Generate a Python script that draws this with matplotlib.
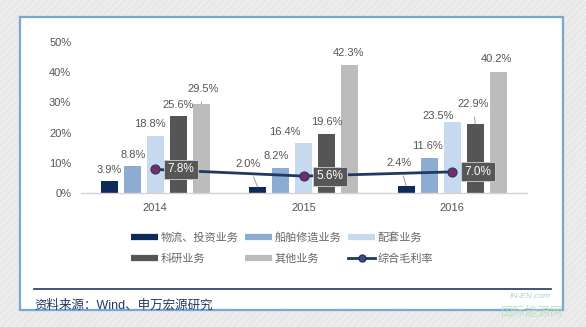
import matplotlib
matplotlib.use("Agg")
import matplotlib.pyplot as plt
from matplotlib.lines import Line2D
from matplotlib.patches import Rectangle
import numpy as np

plt.rcParams['font.family'] = ['Liberation Sans', 'Noto Sans CJK SC', 'DejaVu Sans']

years = ['2014', '2015', '2016']
series_names = ['物流、投资业务', '船舶修造业务', '配套业务', '科研业务', '其他业务']
logistics = [3.9, 2.0, 2.4]
shipbuilding = [8.8, 8.2, 11.6]
supporting = [18.8, 16.4, 23.5]
research = [25.6, 19.6, 22.9]
others = [29.5, 42.3, 40.2]
gross_margin = [7.8, 5.6, 7.0]
line_name = '综合毛利率'
yticks = [0, 10, 20, 30, 40, 50]
source_text = '资料来源：Wind、申万宏源研究'

series = [logistics, shipbuilding, supporting, research, others]
colors = ['#0e2a5a', '#8eabd2', '#c6d9ef', '#555555', '#bcbcbc']

# label offsets (dx, dy) in points relative to the bar top centre; leader flag
label_style = {
    (0, 0): (0, 8, False), (0, 1): (1, 8.5, False), (0, 2): (-4, 8.5, False),
    (0, 3): (0, 7.5, False), (0, 4): (1.5, 11, True),
    (1, 0): (-7, 16.5, True), (1, 1): (-3, 8.5, False), (1, 2): (-13.5, 8.5, False),
    (1, 3): (0, 8.5, False), (1, 4): (-1, 9, False),
    (2, 0): (-5, 16.5, True), (2, 1): (-1, 8.5, False), (2, 2): (-10, 4, False),
    (2, 3): (-1.5, 14.5, True), (2, 4): (-1, 9, False),
}

fig = plt.figure(figsize=(5.86, 3.27), dpi=100)
fig.patch.set_facecolor('#e8e8e8')

# faint diagonal hatching on the outer frame
for k in np.arange(-1.0, 2.0, 0.012):
    fig.add_artist(Line2D([k, k + 0.56], [0, 1], transform=fig.transFigure,
                          color='#f4f4f4', lw=0.6, zorder=0))

panel = Rectangle((20 / 586, 1 - 310 / 327), 543 / 586, 293 / 327,
                  transform=fig.transFigure, facecolor='white',
                  edgecolor='#7aa6d2', lw=1.6, zorder=1)
fig.add_artist(panel)

ax = fig.add_axes([81 / 586, 1 - 193 / 327, 445.5 / 586, 151 / 327])
ax.set_zorder(2)
ax.patch.set_alpha(0)

x = np.arange(len(years))
step = 0.155
width = 0.114
for i, (vals, col) in enumerate(zip(series, colors)):
    pos = x + (i - 2) * step
    ax.bar(pos, vals, width=width, color=col, label=series_names[i], zorder=2)
    for g, (px, v) in enumerate(zip(pos, vals)):
        dx, dy, leader = label_style[(g, i)]
        ax.annotate(f'{v:.1f}%', xy=(px, v), xytext=(dx, dy),
                    textcoords='offset points', ha='center', va='center',
                    fontsize=8, color='#555555', zorder=4,
                    arrowprops=dict(arrowstyle='-', color='#8a8a8a', lw=0.6,
                                    shrinkA=4, shrinkB=0) if leader else None)

ax.plot(x, gross_margin, color='#1f3864', lw=2, marker='o', markersize=6.5,
        markerfacecolor='#7a2c68', markeredgecolor='#1f3864',
        markeredgewidth=0.8, label=line_name, zorder=5)
for px, v in zip(x, gross_margin):
    ax.annotate(f'{v:.1f}%', xy=(px, v), xytext=(9, 0),
                textcoords='offset points', ha='left', va='center',
                fontsize=8.5, color='white', zorder=6,
                bbox=dict(boxstyle='square,pad=0.3', facecolor='#575757',
                          edgecolor='#cfcfcf', lw=0.6))

ax.set_xlim(-0.5, 2.5)
ax.set_ylim(0, 50)
ax.set_xticks(x)
ax.set_xticklabels(years)
ax.set_yticks(yticks)
ax.set_yticklabels([f'{t}%' for t in yticks])
ax.tick_params(axis='both', length=0, labelsize=8, labelcolor='#555555')
ax.tick_params(axis='y', pad=7)
ax.tick_params(axis='x', pad=7)
for s in ['top', 'right', 'left']:
    ax.spines[s].set_visible(False)
ax.spines['bottom'].set_color('#d4d4d4')
ax.spines['bottom'].set_linewidth(1)

handles = [Line2D([0], [0], color=c, lw=4.5, solid_capstyle='butt') for c in colors]
handles.append(Line2D([0], [0], color='#1f3864', lw=2, marker='o',
                      markersize=5, markerfacecolor='#3a4f80',
                      markeredgecolor='#1f3864'))
labels = series_names + [line_name]
# legend fills column by column; reorder so rows read left to right
order = [0, 3, 1, 4, 2, 5]
fig.legend([handles[k] for k in order], [labels[k] for k in order], ncol=3,
           loc='center', bbox_to_anchor=(0.482, 1 - 248 / 327),
           frameon=False, fontsize=8, labelcolor='#666666', handlelength=2.4,
           handletextpad=0.25, columnspacing=0.6, labelspacing=0.9)

fig.add_artist(Line2D([34 / 586, 551 / 586], [1 - 289 / 327, 1 - 289 / 327],
                      transform=fig.transFigure, color='#1f3864', lw=1.2, zorder=3))
fig.text(34 / 586, 1 - 306 / 327, source_text, fontsize=9, color='#1f3864',
         ha='left', va='center', zorder=3)

fig.text(530 / 586, 1 - 297 / 327, 'IN-EN.com', fontsize=6, color='#a9cfe6',
         style='italic', ha='center', va='center', zorder=3)
fig.text(532 / 586, 1 - 313 / 327, '国际能源网', fontsize=9, color='#bfe0c4',
         ha='center', va='center', zorder=3)

fig.savefig('out.png', dpi=100, facecolor=fig.get_facecolor())
